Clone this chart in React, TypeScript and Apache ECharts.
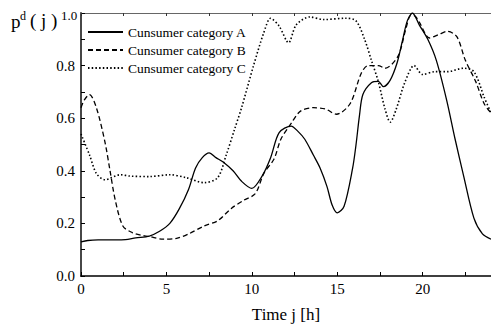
import React, { useEffect, useRef } from "react";
import * as echarts from "echarts";

const seriesNames = ["Cunsumer category A", "Cunsumer category B", "Cunsumer category C"];

const pointsA: [number, number][] = [
  [0, 0.13], [0.4, 0.135], [1, 0.137], [2, 0.137], [2.6, 0.138], [3.2, 0.145], [4, 0.152],
  [4.6, 0.17], [5.2, 0.2], [5.75, 0.255], [6.3, 0.33], [6.7, 0.41], [7.1, 0.45], [7.5, 0.468],
  [7.9, 0.45], [8.3, 0.434], [8.9, 0.4], [9.4, 0.36], [10.0, 0.333], [10.6, 0.38], [11.1, 0.45],
  [11.6, 0.545], [12.3, 0.57], [12.7, 0.55], [13.1, 0.52], [13.6, 0.46], [14.0, 0.41],
  [14.4, 0.34], [14.7, 0.27], [15.0, 0.24], [15.4, 0.265], [15.9, 0.41], [16.1, 0.5],
  [16.3, 0.61], [16.5, 0.69], [17.0, 0.735], [17.4, 0.74], [17.7, 0.72], [18.1, 0.745],
  [18.5, 0.81], [18.8, 0.89], [19.1, 0.97], [19.4, 1.0], [19.8, 0.955], [20.3, 0.9],
  [20.8, 0.82], [21.4, 0.67], [21.9, 0.52], [22.4, 0.38], [23.0, 0.22], [23.5, 0.16], [24, 0.14],
];

const pointsB: [number, number][] = [
  [0, 0.64], [0.2, 0.67], [0.5, 0.69], [0.9, 0.64], [1.4, 0.51], [1.7, 0.4], [2.0, 0.29],
  [2.45, 0.19], [3.0, 0.165], [3.5, 0.155], [4.0, 0.15], [4.8, 0.14], [5.6, 0.143], [6.3, 0.16],
  [7.2, 0.19], [8.0, 0.21], [8.8, 0.257], [9.5, 0.287], [10.2, 0.313], [10.7, 0.39],
  [11.3, 0.445], [11.7, 0.52], [12.3, 0.58], [12.85, 0.627], [13.6, 0.64], [14.3, 0.635],
  [14.95, 0.615], [15.75, 0.655], [16.4, 0.77], [16.8, 0.8], [17.4, 0.8], [17.8, 0.79],
  [18.55, 0.835], [19.0, 0.935], [19.3, 0.99], [19.5, 0.99], [19.8, 0.965], [20.4, 0.905],
  [20.9, 0.917], [21.45, 0.93], [22.0, 0.91], [22.5, 0.82], [23.1, 0.74], [23.6, 0.655], [24, 0.62],
];

const pointsC: [number, number][] = [
  [0, 0.54], [0.5, 0.46], [0.9, 0.39], [1.4, 0.366], [2.3, 0.385], [2.85, 0.38], [4.0, 0.378],
  [5.2, 0.385], [6.15, 0.374], [7.2, 0.355], [8.0, 0.374], [8.5, 0.46], [9.0, 0.56], [9.4, 0.64],
  [10.1, 0.8], [10.7, 0.925], [11.1, 0.98], [11.6, 0.95], [12.15, 0.887], [12.6, 0.955],
  [13.4, 0.985], [14.2, 0.975], [15.5, 0.98], [16.1, 0.97], [16.6, 0.9], [17.0, 0.82],
  [17.4, 0.74], [17.8, 0.634], [18.1, 0.585], [18.45, 0.634], [18.95, 0.735], [19.5, 0.8],
  [20.0, 0.766], [20.7, 0.777], [21.45, 0.777], [22.4, 0.79], [23.0, 0.777], [23.6, 0.68], [24, 0.62],
];

const xTickLabels = ["0", "5", "10", "15", "20"];
const yTickLabels = ["0.0", "0.2", "0.4", "0.6", "0.8"];

const FONT = "Liberation Serif, Times New Roman, serif";

export default function App() {
  const ref = useRef<HTMLDivElement>(null);
  useEffect(() => {
    if (!ref.current) return;
    const chart = echarts.init(ref.current, null, { renderer: "svg" });
    const lineTypes: any[] = ["solid", [5, 3], [1.5, 2.2]];
    const all = [pointsA, pointsB, pointsC];
    chart.setOption({
      animation: false,
      backgroundColor: "#fff",
      textStyle: { fontFamily: FONT, color: "#000" },
      grid: { left: 81, right: -3, top: 13, bottom: 50 },
      legend: {
        orient: "vertical",
        left: 82,
        top: 20,
        itemWidth: 35,
        itemHeight: 14,
        itemGap: 4,
        data: seriesNames,
        itemStyle: { opacity: 0 },
        textStyle: { fontFamily: FONT, fontSize: 13.5, color: "#000" },
      },
      xAxis: [
        {
          type: "value",
          min: 0,
          max: 24,
          interval: 2.5,
          position: "bottom",
          splitLine: { show: false },
          axisLine: { lineStyle: { color: "#000", width: 1.5 } },
          axisTick: { inside: true, length: 4, lineStyle: { color: "#000" } },
          axisLabel: {
            margin: 5,
            fontFamily: FONT,
            fontSize: 15,
            color: "#000",
            showMaxLabel: false,
            formatter: (v: number) => {
              const s = String(Math.round(v * 10) / 10);
              return xTickLabels.includes(s) ? s : "";
            },
          },
          name: "Time j [h]",
          nameLocation: "middle",
          nameGap: 30,
          nameTextStyle: { fontFamily: FONT, fontSize: 17, color: "#000" },
        },
        {
          type: "value",
          min: 0,
          max: 24,
          interval: 2.5,
          position: "top",
          splitLine: { show: false },
          axisLine: { lineStyle: { color: "#666", width: 1.2 } },
          axisTick: { inside: true, length: 3, lineStyle: { color: "#333" } },
          axisLabel: { show: false },
        },
      ],
      yAxis: {
        type: "value",
        min: 0,
        max: 1,
        interval: 0.1,
        splitLine: { show: false },
        axisLine: { show: true, lineStyle: { color: "#333", width: 1.8 } },
        axisTick: { show: true, inside: true, length: 4, lineStyle: { color: "#000" } },
        axisLabel: {
          margin: 6,
          fontFamily: FONT,
          fontSize: 15,
          color: "#000",
          formatter: (v: number) => {
            const s = (Math.round(v * 10) / 10).toFixed(1);
            return yTickLabels.includes(s) ? s : "";
          },
        },
      },
      graphic: [
        { type: "text", left: 11, top: 12, style: { text: "p", fontFamily: FONT, fontSize: 19, fill: "#000" } },
        { type: "text", left: 20, top: 10, style: { text: "d", fontFamily: FONT, fontSize: 12, fill: "#000" } },
        { type: "text", left: 30, top: 11, style: { text: "( j )", fontFamily: FONT, fontSize: 19, fill: "#000" } },
        { type: "text", left: 61, top: 9, style: { text: "1.0", fontFamily: FONT, fontSize: 13, fill: "#000" } },
      ],
      series: all.map((pts, i) => ({
        name: seriesNames[i],
        type: "line",
        data: pts,
        symbol: "none",
        smooth: 0.3,
        xAxisIndex: 0,
        lineStyle: { color: "#000", width: i === 2 ? 1.6 : 1.3, type: lineTypes[i] },
        itemStyle: { color: "#000" },
      })),
    });
    return () => chart.dispose();
  }, []);
  return <div ref={ref} style={{ width: 491, height: 328, position: "absolute", left: 0, top: 0 }} />;
}
